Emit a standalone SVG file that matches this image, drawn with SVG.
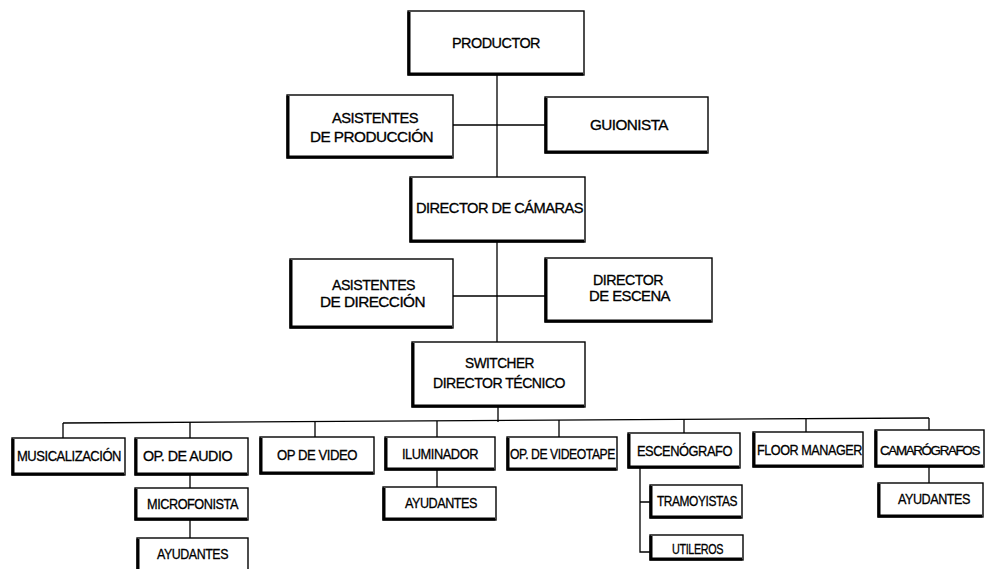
<svg xmlns="http://www.w3.org/2000/svg" width="986" height="569" viewBox="0 0 986 569">
<style>
.box{fill:#fff;stroke:#000;stroke-width:1.4}
.sh{fill:none;stroke:#000;stroke-width:3}
.c{fill:none;stroke:#000;stroke-width:1.3}
text{font-family:"Liberation Sans","DejaVu Sans",sans-serif;font-size:14px;fill:#000;stroke:#000;stroke-width:0.3;letter-spacing:-0.5px}
text.tight{font-size:13px;letter-spacing:-1.3px}
</style>
<rect width="986" height="569" fill="#fff"/>
<g id="connectors">
<path class="c" d="M497 75V177M453 125H545M497 242V342M453 296H545M498 407V422"/>
<path class="c" d="M63 423L929 418"/>
<path class="c" d="M63 423V438M190 422V438M315 421V437M437 421V437M559 420V437M684 420V433M806 419V432M929 418V430"/>
<path class="c" d="M190 475V488M190 520V538M437 470V487M929 467V483"/>
<path class="c" d="M640 468V552H650M640 502H650"/>
</g>
<g id="productor"><rect class="box" x="408" y="11" width="176" height="64"/><path class="sh" d="M409 12V74H583"/><text x="452" y="48" textLength="88" lengthAdjust="spacingAndGlyphs">PRODUCTOR</text></g>
<g id="asistentes-produccion"><rect class="box" x="287" y="95" width="166" height="63"/><path class="sh" d="M288 96V157H452"/><text x="332" y="123" textLength="86" lengthAdjust="spacingAndGlyphs">ASISTENTES</text><text x="310" y="142" textLength="123" lengthAdjust="spacingAndGlyphs">DE PRODUCCIÓN</text></g>
<g id="guionista"><rect class="box" x="545" y="97" width="163" height="56"/><path class="sh" d="M546 98V152H707"/><text x="590" y="130" textLength="78" lengthAdjust="spacingAndGlyphs">GUIONISTA</text></g>
<g id="director-camaras"><rect class="box" x="410" y="177" width="175" height="65"/><path class="sh" d="M411 178V241H584"/><text x="416" y="213" textLength="167" lengthAdjust="spacingAndGlyphs">DIRECTOR DE CÁMARAS</text></g>
<g id="asistentes-direccion"><rect class="box" x="290" y="259" width="163" height="69"/><path class="sh" d="M291 260V327H452"/><text x="332" y="290" textLength="83" lengthAdjust="spacingAndGlyphs">ASISTENTES</text><text x="320" y="307" textLength="105" lengthAdjust="spacingAndGlyphs">DE DIRECCIÓN</text></g>
<g id="director-escena"><rect class="box" x="545" y="258" width="167" height="64"/><path class="sh" d="M546 259V321H711"/><text x="593" y="285" textLength="70" lengthAdjust="spacingAndGlyphs">DIRECTOR</text><text x="589" y="301" textLength="81" lengthAdjust="spacingAndGlyphs">DE ESCENA</text></g>
<g id="switcher"><rect class="box" x="412" y="342" width="173" height="65"/><path class="sh" d="M413 343V406H584"/><text x="465" y="368" textLength="69" lengthAdjust="spacingAndGlyphs">SWITCHER</text><text x="433" y="388" textLength="132" lengthAdjust="spacingAndGlyphs">DIRECTOR TÉCNICO</text></g>
<g id="musicalizacion"><rect class="box" x="12" y="438" width="113" height="37"/><path class="sh" d="M13 439V474H124"/><text x="17" y="461" textLength="104" lengthAdjust="spacingAndGlyphs">MUSICALIZACIÓN</text></g>
<g id="op-audio"><rect class="box" x="135" y="438" width="113" height="37"/><path class="sh" d="M136 439V474H247"/><text x="143" y="461" textLength="89" lengthAdjust="spacingAndGlyphs">OP. DE AUDIO</text></g>
<g id="op-video"><rect class="box" x="260" y="437" width="114" height="37"/><path class="sh" d="M261 438V473H373"/><text x="277" y="460" textLength="80" lengthAdjust="spacingAndGlyphs">OP DE VIDEO</text></g>
<g id="iluminador"><rect class="box" x="385" y="437" width="110" height="33"/><path class="sh" d="M386 438V469H494"/><text x="402" y="459" textLength="76" lengthAdjust="spacingAndGlyphs">ILUMINADOR</text></g>
<g id="op-videotape"><rect class="box" x="507" y="437" width="110" height="33"/><path class="sh" d="M508 438V469H616"/><text x="510" y="459" textLength="105" lengthAdjust="spacingAndGlyphs">OP. DE VIDEOTAPE</text></g>
<g id="escenografo"><rect class="box" x="628" y="433" width="112" height="35"/><path class="sh" d="M629 434V467H739"/><text x="637" y="456" textLength="95" lengthAdjust="spacingAndGlyphs">ESCENÓGRAFO</text></g>
<g id="floor-manager"><rect class="box" x="753" y="432" width="110" height="35"/><path class="sh" d="M754 433V466H862"/><text x="757" y="455" textLength="105" lengthAdjust="spacingAndGlyphs">FLOOR MANAGER</text></g>
<g id="camarografos"><rect class="box" x="875" y="430" width="109" height="37"/><path class="sh" d="M876 431V466H983"/><text class="tight" x="880" y="455" textLength="99" lengthAdjust="spacingAndGlyphs">CAMARÓGRAFOS</text></g>
<g id="microfonista"><rect class="box" x="135" y="488" width="113" height="32"/><path class="sh" d="M136 489V519H247"/><text x="147" y="509" textLength="91" lengthAdjust="spacingAndGlyphs">MICROFONISTA</text></g>
<g id="ayudantes-audio"><rect class="box" x="137" y="538" width="111" height="40"/><path class="sh" d="M138 539V577"/><text x="157" y="559" textLength="71" lengthAdjust="spacingAndGlyphs">AYUDANTES</text></g>
<g id="ayudantes-iluminador"><rect class="box" x="383" y="487" width="113" height="33"/><path class="sh" d="M384 488V519H495"/><text x="405" y="508" textLength="72" lengthAdjust="spacingAndGlyphs">AYUDANTES</text></g>
<g id="tramoyistas"><rect class="box" x="650" y="485" width="92" height="33"/><path class="sh" d="M651 486V517H741"/><text x="657" y="506" textLength="80" lengthAdjust="spacingAndGlyphs">TRAMOYISTAS</text></g>
<g id="utileros"><rect class="box" x="650" y="535" width="93" height="25"/><path class="sh" d="M651 536V559H742"/><text x="672" y="554" textLength="51" lengthAdjust="spacingAndGlyphs">UTILEROS</text></g>
<g id="ayudantes-camarografos"><rect class="box" x="878" y="483" width="105" height="34"/><path class="sh" d="M879 484V516H982"/><text x="898" y="504" textLength="72" lengthAdjust="spacingAndGlyphs">AYUDANTES</text></g>
</svg>
